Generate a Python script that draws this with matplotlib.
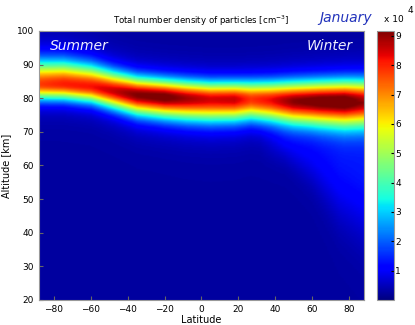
import numpy as np
import matplotlib
matplotlib.use('Agg')
import matplotlib.pyplot as plt

# layer properties, per control latitude
ctrl_lat = [-88, -75, -60, -48, -35, -20, -8, 5, 18, 27, 38, 50, 65, 78, 88]
peak_alt = [84.0, 84.0, 83.3, 82.0, 80.8, 80.2, 79.8, 79.5, 79.5, 79.5, 79.3, 79.0, 79.0, 79.0, 79.0]
peak_val = [7.5, 7.8, 7.9, 8.3, 8.9, 9.1, 8.6, 8.2, 8.3, 7.6, 8.0, 8.8, 9.2, 9.3, 8.6]  # x 1e4
sig_up = [4.6, 4.5, 4.2, 3.8, 3.5, 3.4, 3.4, 3.4, 3.4, 3.5, 3.6, 3.8, 3.9, 4.0, 4.1]
sig_low = [3.0, 3.0, 3.1, 3.4, 3.8, 4.0, 4.2, 4.3, 4.2, 4.0, 4.2, 4.5, 4.8, 5.0, 5.0]

# weak winter tail below the layer
tail_lat = [-88, 32, 45, 60, 75, 88]
tail_amp = [0.0, 0.0, 0.4, 0.6, 0.9, 1.0]  # x 1e4
tail_alt = [68, 68, 67, 63, 59, 57]
tail_sig = [4, 4, 4, 6, 10, 12]

background = 0.28  # x 1e4

lat = np.linspace(-88, 88, 177)
alt = np.linspace(20, 100, 321)
LAT, ALT = np.meshgrid(lat, alt)

pa = np.interp(lat, ctrl_lat, peak_alt)
pv = np.interp(lat, ctrl_lat, peak_val)
su = np.interp(lat, ctrl_lat, sig_up)
sl = np.interp(lat, ctrl_lat, sig_low)
sig = np.where(ALT > pa, su, sl)
d = (ALT - pa) / sig
field = pv * (0.88 * np.exp(-0.5 * d ** 2) + 0.12 * np.exp(-0.5 * (d / 1.8) ** 2))

ta = np.interp(lat, tail_lat, tail_amp)
tc = np.interp(lat, tail_lat, tail_alt)
ts = np.interp(lat, tail_lat, tail_sig)
field += ta * np.exp(-0.5 * ((ALT - tc) / ts) ** 2) * (ALT < pa)
field += background
field *= 1e4

fig = plt.figure(figsize=(4.15, 3.25), dpi=100)
ax = fig.add_axes([0.094, 0.077, 0.783, 0.828])
im = ax.imshow(field, origin='lower', extent=[-88, 88, 20, 100], aspect='auto',
               cmap='jet', vmin=0, vmax=9.17e4, interpolation='bilinear')
ax.set_xlim(-88, 88)
ax.set_ylim(20, 100)
ax.set_xticks(range(-80, 81, 20))
ax.set_yticks(range(20, 101, 10))
ax.tick_params(direction='in', labelsize=6.5, length=3, color='#666666')
for s in ax.spines.values():
    s.set_color('#999999')
ax.set_xlabel('Latitude', fontsize=7, labelpad=1)
ax.set_ylabel('Altitude [km]', fontsize=7, labelpad=4)
ax.set_title('Total number density of particles [cm$^{-3}$]', fontsize=6.2, pad=5)

ax.text(0.035, 0.945, 'Summer', transform=ax.transAxes, fontsize=10,
        style='italic', color='#eeeeff', va='center', ha='left')
ax.text(0.965, 0.945, 'Winter', transform=ax.transAxes, fontsize=10,
        style='italic', color='#eeeeff', va='center', ha='right')
fig.text(0.832, 0.945, 'January', fontsize=10, style='italic',
         color='#2233bb', ha='center', va='center')

cax = fig.add_axes([0.908, 0.077, 0.041, 0.828])
cb = fig.colorbar(im, cax=cax, ticks=[i * 1e4 for i in range(1, 10)])
cb.set_ticklabels([str(i) for i in range(1, 10)])
cb.ax.tick_params(labelsize=6.5, direction='in', length=2, pad=1)
cb.outline.set_edgecolor('#999999')
fig.text(0.948, 0.925, 'x 10', fontsize=6.5, ha='center', va='bottom')
fig.text(0.988, 0.955, '4', fontsize=6.5, ha='center', va='bottom')

plt.savefig('out.png', dpi=100)
